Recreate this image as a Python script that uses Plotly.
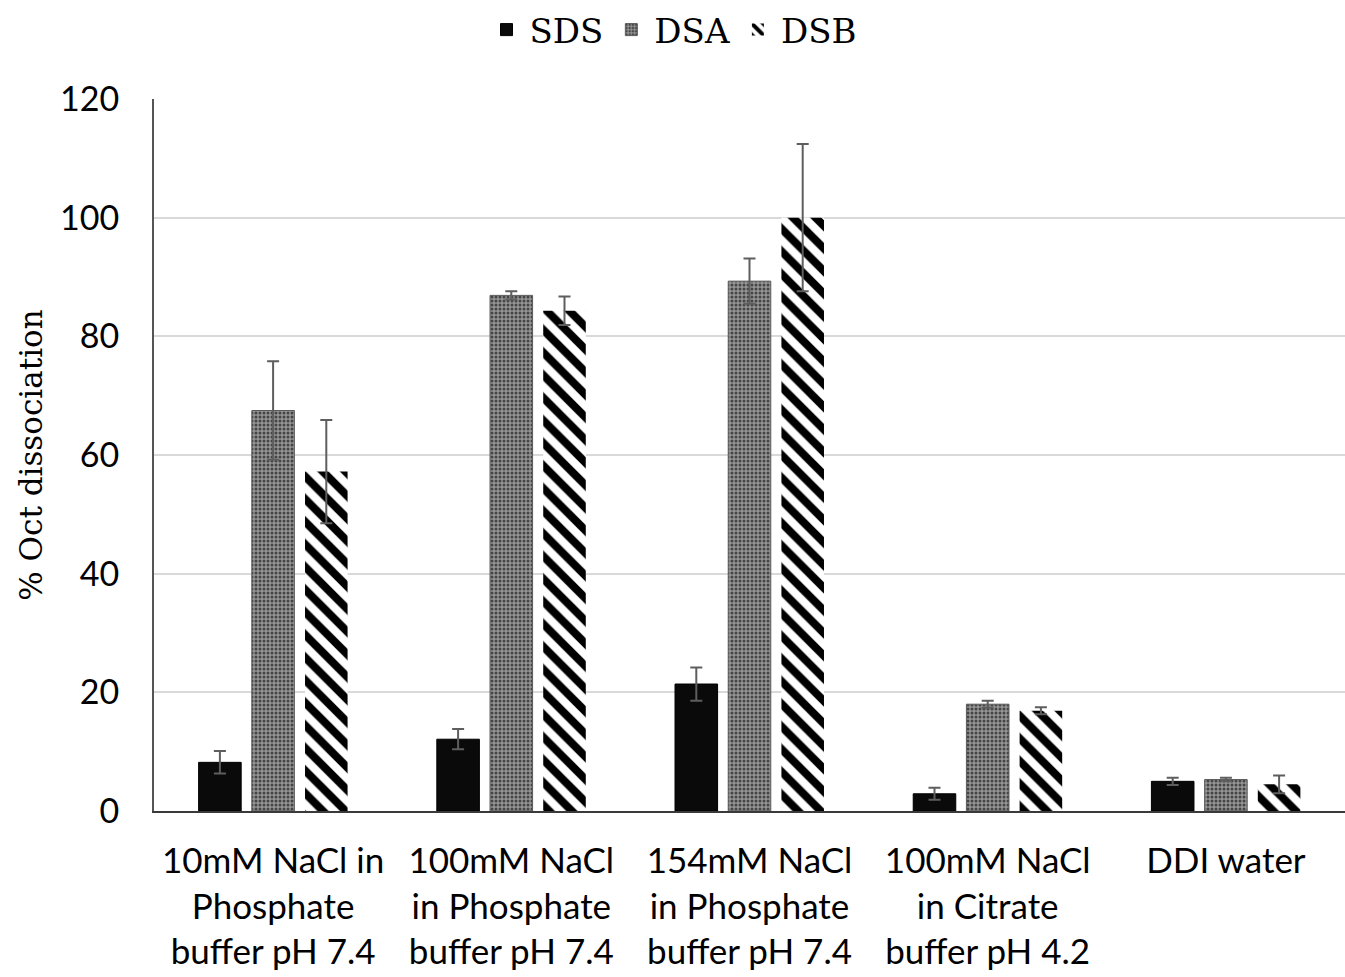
import plotly.graph_objects as go

categories = ["10mM NaCl in<br>Phosphate<br>buffer pH 7.4",
              "100mM NaCl<br>in Phosphate<br>buffer pH 7.4",
              "154mM NaCl<br>in Phosphate<br>buffer pH 7.4",
              "100mM NaCl<br>in Citrate<br>buffer pH 4.2",
              "DDI water"]
sds = [8.2, 12.1, 21.4, 2.9, 5.0]
sds_err = [1.9, 1.7, 2.8, 1.0, 0.6]
dsa = [67.5, 86.9, 89.3, 18.0, 5.3]
dsa_err = [8.3, 0.7, 3.8, 0.6, 0.3]
dsb = [57.2, 84.3, 100.0, 16.9, 4.5]
dsb_err = [8.7, 2.4, 12.4, 0.6, 1.5]

err_style = dict(type="data", visible=True, color="#5e5e5e", thickness=2, width=6)

fig = go.Figure()
fig.add_trace(go.Bar(
    name="SDS", x=categories, y=sds,
    error_y=dict(array=sds_err, **err_style),
    marker=dict(color="#0a0a0a", line=dict(color="#000000", width=1)),
))
fig.add_trace(go.Bar(
    name="DSA", x=categories, y=dsa,
    error_y=dict(array=dsa_err, **err_style),
    marker=dict(color="#8c8c8c",
                line=dict(color="#5a5a5a", width=1),
                pattern=dict(shape=".", fgcolor="#454545", bgcolor="#959595",
                             size=4, solidity=0.45, fillmode="replace")),
))
fig.add_trace(go.Bar(
    name="DSB", x=categories, y=dsb,
    error_y=dict(array=dsb_err, **err_style),
    marker=dict(color="#000000",
                line=dict(color="#ffffff", width=0),
                pattern=dict(shape="\\", fgcolor="#000000", bgcolor="#ffffff",
                             size=16, solidity=0.5, fillmode="replace")),
))

fig.update_layout(
    width=1345, height=977,
    paper_bgcolor="white", plot_bgcolor="white",
    margin=dict(l=154, r=0, t=99, b=166),
    barmode="group", bargap=0.33, bargroupgap=0.2,
    font=dict(family="Lato, Open Sans, sans-serif", color="#000000", size=34),
    legend=dict(orientation="h", x=0.5, xanchor="center",
                y=1 - 30 / 977, yanchor="middle",
                xref="container", yref="container",
                font=dict(family="DejaVu Serif, serif", size=34),
                itemwidth=36, traceorder="normal"),
    showlegend=True,
)
fig.update_xaxes(showline=True, linecolor="#3a3a3a", linewidth=2,
                 tickfont=dict(size=35), ticks="", ticklabelstandoff=18)
fig.update_yaxes(range=[0, 120], dtick=20, showline=True, linecolor="#555555", linewidth=2,
                 gridcolor="#d9d9d9", gridwidth=2, zeroline=False,
                 tickfont=dict(size=34), ticklabelstandoff=26,
                 title=dict(text="% Oct dissociation",
                            font=dict(family="DejaVu Serif, serif", size=31),
                            standoff=8))

fig.write_html("out.html")
